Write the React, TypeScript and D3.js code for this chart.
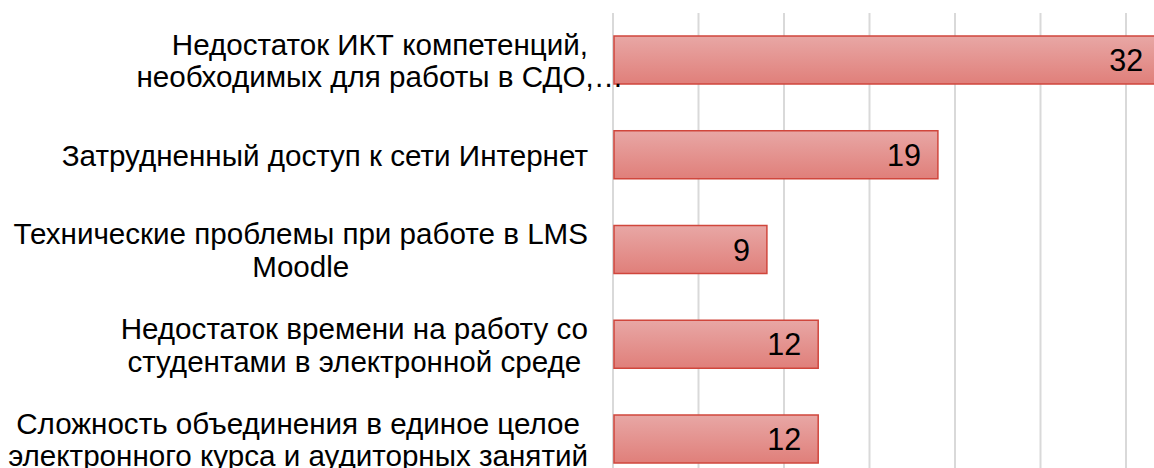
import React from "react";
import * as d3 from "d3";

const categories: string[][] = [
  ["Недостаток ИКТ компетенций,", "необходимых для работы в СДО,…"],
  ["Затрудненный доступ к сети Интернет"],
  ["Технические проблемы при работе в LMS", "Moodle"],
  ["Недостаток времени на работу со", "студентами в электронной среде"],
  ["Сложность объединения в единое целое", "электронного курса и аудиторных занятий"],
];
const values: number[] = [32, 19, 9, 12, 12];
const gridTicks: number[] = [0, 5, 10, 15, 20, 25, 30, 35];

const W = 1154;
const H = 468;
const LABEL_SIZE = 29.6;
const VALUE_SIZE = 30.5;
const FONT = "'Liberation Sans', Arial, sans-serif";
const LINE_H = 32.7;
const LABEL_RIGHT = 588;

let ctx: CanvasRenderingContext2D | null = null;
function measure(t: string): number {
  if (!ctx) {
    const c = document.createElement("canvas");
    ctx = c.getContext("2d");
  }
  if (!ctx) return t.length * LABEL_SIZE * 0.55;
  ctx.font = `${LABEL_SIZE}px 'Liberation Sans', Arial, sans-serif`;
  return ctx.measureText(t).width;
}

export default function App() {
  const keys = categories.map((_, i) => String(i));
  const x = d3.scaleLinear().domain([0, 35]).range([613, 613 + 35 * 17.1]);
  const y = d3.scaleBand<string>().domain(keys).range([36, 463]).paddingInner(0.4934).paddingOuter(0);
  const bw = y.bandwidth();

  return (
    <svg width={W} height={H} style={{ position: "absolute", left: 0, top: 0, background: "#fff" }}>
      <defs>
        <linearGradient id="barGrad" x1="0" y1="0" x2="0" y2="1">
          <stop offset="0%" stopColor="#e8a7a5" />
          <stop offset="100%" stopColor="#e07f7a" />
        </linearGradient>
      </defs>
      <rect x={0} y={0} width={W} height={H} fill="#fff" />
      {gridTicks.map((t) => (
        <line key={t} x1={x(t)} x2={x(t)} y1={13} y2={H} stroke="#d9d9d9" strokeWidth={2} />
      ))}
      {values.map((v, i) => {
        const y0 = y(keys[i]) as number;
        return (
          <g key={i}>
            <rect
              x={x(0) + 1}
              y={y0}
              width={x(v) - x(0) - 1}
              height={bw}
              fill="url(#barGrad)"
              stroke="#d0463c"
              strokeWidth={1.5}
            />
            <text
              x={x(v) - 17}
              y={y0 + bw / 2 + 11}
              textAnchor="end"
              fontFamily={FONT}
              fontSize={VALUE_SIZE}
              fill="#000"
            >
              {v}
            </text>
          </g>
        );
      })}
      {categories.map((lines, i) => {
        const cy = (y(keys[i]) as number) + bw / 2;
        const widths = lines.filter((l) => !l.endsWith("…")).map(measure);
        const maxW = widths.length ? Math.max(...widths) : measure(lines[0]);
        const cx = LABEL_RIGHT - maxW / 2;
        const firstBaseline = cy - ((lines.length - 1) * LINE_H) / 2 + 11;
        return (
          <text key={i} textAnchor="middle" fontFamily={FONT} fontSize={LABEL_SIZE} fill="#000">
            {lines.map((l, j) => (
              <tspan key={j} x={cx} y={firstBaseline + j * LINE_H}>
                {l}
              </tspan>
            ))}
          </text>
        );
      })}
    </svg>
  );
}
